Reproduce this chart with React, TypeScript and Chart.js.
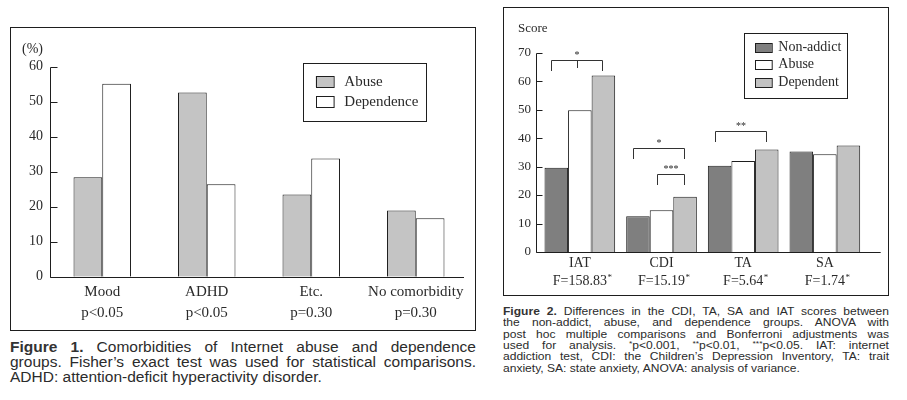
import React, { useEffect, useRef } from "react";
import { Chart, registerables } from "chart.js";

Chart.register(...registerables);

// ---------- Figure 1 data ----------
const fig1Categories = ["Mood", "ADHD", "Etc.", "No comorbidity"];
const fig1PValues = ["p<0.05", "p<0.05", "p=0.30", "p=0.30"];
const fig1Abuse = [28.4, 52.6, 23.5, 18.9];
const fig1Dependence = [55.1, 26.4, 33.8, 16.7];
const fig1YMax = 60;
const fig1YStep = 10;
const fig1YUnit = "(%)";
const fig1SeriesNames = ["Abuse", "Dependence"];

// ---------- Figure 2 data ----------
const fig2Categories = ["IAT", "CDI", "TA", "SA"];
const fig2FStats = ["F=158.83", "F=15.19", "F=5.64", "F=1.74"];
const fig2NonAddict = [29.6, 12.6, 30.3, 35.3];
const fig2Abuse = [49.8, 14.7, 32.0, 34.3];
const fig2Dependent = [62.0, 19.4, 36.0, 37.4];
const fig2YMax = 70;
const fig2YStep = 10;
const fig2YTitle = "Score";
const fig2SeriesNames = ["Non-addict", "Abuse", "Dependent"];
// significance brackets
const fig2BracketCat = [0, 1, 1, 2];
const fig2BracketFrom = [0, 0, 1, 0];
const fig2BracketTo = [2, 2, 2, 2];
const fig2BracketTop = [67.4, 36.4, 27.4, 42.6];
const fig2BracketEnd = [63.5, 32.5, 23.5, 38.7];
const fig2BracketMidEnd = [64.6, null, null, null];
const fig2BracketStars = ["*", "*", "***", "**"];

// ---------- captions ----------
const fig1CaptionLines = [
  ["Figure 1.", " Comorbidities of Internet abuse and dependence"],
  ["", "groups. Fisher\u2019s exact test was used for statistical comparisons."],
  ["", "ADHD: attention-deficit hyperactivity disorder."],
];
const fig2CaptionLines = [
  ["Figure 2.", " Differences in the CDI, TA, SA and IAT scores between"],
  ["", "the non-addict, abuse, and dependence groups. ANOVA with"],
  ["", "post hoc multiple comparisons and Bonferroni adjustments was"],
  ["", "used for analysis. |*|p<0.001, |**|p<0.01, |***|p<0.05. IAT: internet"],
  ["", "addiction test, CDI: the Children\u2019s Depression Inventory, TA: trait"],
  ["", "anxiety, SA: state anxiety, ANOVA: analysis of variance."],
];

const SERIF = "'Liberation Serif', 'DejaVu Serif', serif";
const SANS = "'Liberation Sans', Arial, sans-serif";
const TEXT = "#2a2a2a";
const LINE = "#1e1e1e";

// ---------- plugins ----------
const customAxes = {
  id: "customAxes",
  afterDraw(chart: any, _args: any, opts: any) {
    const { ctx, chartArea, scales } = chart;
    const y = scales.y;
    const ax = Math.round(chartArea.left + opts.axisOffset) + 0.5;
    const yb = Math.round(chartArea.bottom) + 0.5;
    const yt = Math.round(y.getPixelForValue(y.max)) + 0.5;
    ctx.save();
    ctx.strokeStyle = LINE;
    ctx.lineWidth = 1;
    ctx.beginPath();
    ctx.moveTo(ax, yt);
    ctx.lineTo(ax, yb);
    ctx.lineTo(chartArea.right + opts.xExtend, yb);
    y.ticks.forEach((t: any) => {
      const py = Math.round(y.getPixelForValue(t.value)) + 0.5;
      ctx.moveTo(ax, py);
      ctx.lineTo(ax + opts.tickLen, py);
    });
    ctx.stroke();
    ctx.restore();
  },
};

const boxLegend = {
  id: "boxLegend",
  afterDraw(chart: any, _args: any, o: any) {
    const { ctx } = chart;
    ctx.save();
    ctx.strokeStyle = LINE;
    ctx.lineWidth = 1;
    ctx.fillStyle = "#ffffff";
    ctx.fillRect(o.x, o.y, o.w, o.h);
    ctx.strokeRect(Math.round(o.x) + 0.5, Math.round(o.y) + 0.5, Math.round(o.w), Math.round(o.h));
    ctx.font = o.font;
    ctx.textBaseline = "middle";
    ctx.textAlign = "left";
    chart.data.datasets.forEach((ds: any, i: number) => {
      const cy = o.firstRowY + i * o.rowH;
      const sy = Math.round(cy - o.swH / 2);
      ctx.fillStyle = ds.backgroundColor;
      ctx.fillRect(o.swX, sy, o.swW, o.swH);
      ctx.strokeRect(Math.round(o.swX) + 0.5, sy + 0.5, o.swW, o.swH);
      ctx.fillStyle = TEXT;
      ctx.fillText(ds.label, o.textX, cy);
    });
    ctx.restore();
  },
};

const cornerTitle = {
  id: "cornerTitle",
  afterDraw(chart: any, _args: any, o: any) {
    const { ctx } = chart;
    ctx.save();
    ctx.font = o.font;
    ctx.fillStyle = TEXT;
    ctx.textBaseline = "middle";
    ctx.textAlign = "left";
    ctx.fillText(o.text, o.x, o.y);
    ctx.restore();
  },
};

const brackets = {
  id: "brackets",
  afterDatasetsDraw(chart: any, _args: any, o: any) {
    if (!o.enabled) return;
    const { ctx, scales } = chart;
    const y = scales.y;
    ctx.save();
    ctx.strokeStyle = "#333";
    ctx.lineWidth = 1;
    fig2BracketCat.forEach((cat, i) => {
      const b1 = chart.getDatasetMeta(fig2BracketFrom[i]).data[cat];
      const b2 = chart.getDatasetMeta(fig2BracketTo[i]).data[cat];
      const x1 = Math.round(b1.x - 5) + 0.5;
      const x2 = Math.round(b2.x - 1) + 0.5;
      const yt = Math.round(y.getPixelForValue(fig2BracketTop[i])) + 0.5;
      const ye = Math.round(y.getPixelForValue(fig2BracketEnd[i]));
      ctx.beginPath();
      ctx.moveTo(x1, ye);
      ctx.lineTo(x1, yt);
      ctx.lineTo(x2, yt);
      ctx.lineTo(x2, ye);
      const mid = (x1 + x2) / 2;
      const me = fig2BracketMidEnd[i];
      if (me !== null) {
        ctx.moveTo(Math.round(mid) + 0.5, yt);
        ctx.lineTo(Math.round(mid) + 0.5, Math.round(y.getPixelForValue(me)));
      }
      ctx.stroke();
      ctx.font = `10px ${SERIF}`;
      ctx.fillStyle = TEXT;
      ctx.textAlign = "center";
      ctx.textBaseline = "alphabetic";
      ctx.fillText(fig2BracketStars[i], mid, yt - 3);
    });
    ctx.restore();
  },
};

const superStars = {
  id: "superStars",
  afterDraw(chart: any, _args: any, o: any) {
    if (!o.enabled) return;
    const { ctx, scales } = chart;
    const x = scales.x;
    ctx.save();
    const lineY = x.top + o.padding + o.lineHeight * 1.5;
    fig2FStats.forEach((s, i) => {
      ctx.font = o.font;
      const w = ctx.measureText(s).width;
      const cx = x.getPixelForTick(i);
      ctx.font = `9px ${SERIF}`;
      ctx.fillStyle = TEXT;
      ctx.textAlign = "left";
      ctx.textBaseline = "alphabetic";
      ctx.fillText("*", cx + w / 2 + 0.5, lineY - 0.5);
    });
    ctx.restore();
  },
};

// ---------- chart component ----------
function BarChart(props: { config: any; width: number; height: number; left: number; top: number }) {
  const ref = useRef<HTMLCanvasElement | null>(null);
  useEffect(() => {
    if (!ref.current) return;
    const chart = new Chart(ref.current, props.config);
    return () => chart.destroy();
  }, []);
  return (
    <canvas
      ref={ref}
      width={props.width}
      height={props.height}
      style={{ position: "absolute", left: props.left, top: props.top, width: props.width, height: props.height }}
    />
  );
}

function makeConfig(p: any) {
  return {
    type: "bar",
    data: {
      labels: p.labels,
      datasets: p.datasets.map((d: any) => ({
        label: d.label,
        data: d.data,
        backgroundColor: d.color,
        borderColor: LINE,
        borderWidth: 1,
        categoryPercentage: p.catPct,
        barPercentage: 1,
      })),
    },
    options: {
      responsive: false,
      animation: false,
      events: [],
      layout: { padding: p.padding },
      scales: {
        x: {
          grid: { display: false, drawTicks: false },
          border: { display: false },
          ticks: {
            autoSkip: false,
            maxRotation: 0,
            minRotation: 0,
            padding: p.xPad,
            color: TEXT,
            font: { family: SERIF, size: p.xFont, lineHeight: p.xLH },
          },
          afterFit: (s: any) => {
            s.height = p.xHeight;
          },
        },
        y: {
          min: 0,
          max: p.yMax,
          grid: { display: false, drawTicks: false },
          border: { display: false },
          ticks: {
            stepSize: p.yStep,
            padding: p.yPad,
            color: TEXT,
            font: { family: SERIF, size: p.yFont },
          },
          afterFit: (s: any) => {
            s.width = p.yWidth;
          },
        },
      },
      plugins: {
        legend: { display: false },
        tooltip: { enabled: false },
        customAxes: p.axes,
        boxLegend: p.legend,
        cornerTitle: p.title,
        brackets: { enabled: !!p.brackets },
        superStars: p.stars || { enabled: false },
      },
    },
    plugins: [customAxes, boxLegend, cornerTitle, brackets, superStars],
  };
}

const fig1Config = makeConfig({
  labels: fig1Categories.map((c, i) => [c, fig1PValues[i]]),
  datasets: [
    { label: fig1SeriesNames[0], data: fig1Abuse, color: "#c4c4c4" },
    { label: fig1SeriesNames[1], data: fig1Dependence, color: "#ffffff" },
  ],
  catPct: 0.55,
  padding: { left: 0, right: 7, top: 38.7, bottom: 3.3 },
  xPad: 4.5,
  xFont: 15,
  xLH: 1.4,
  xHeight: 50,
  yMax: fig1YMax,
  yStep: fig1YStep,
  yPad: 7,
  yFont: 14,
  yWidth: 39,
  axes: { axisOffset: 0, xExtend: -4, tickLen: 7 },
  legend: {
    x: 292.3, y: 35.3, w: 123.4, h: 57.7,
    swX: 304.7, swW: 17.6, swH: 11, rowH: 20, firstRowY: 53.7,
    textX: 333.3, font: `15px ${SERIF}`,
  },
  title: { text: fig1YUnit, x: 11, y: 21, font: `14px ${SERIF}` },
});

const fig2Config = makeConfig({
  labels: fig2Categories.map((c, i) => [c, fig2FStats[i]]),
  datasets: [
    { label: fig2SeriesNames[0], data: fig2NonAddict, color: "#7f7f7f" },
    { label: fig2SeriesNames[1], data: fig2Abuse, color: "#ffffff" },
    { label: fig2SeriesNames[2], data: fig2Dependent, color: "#c2c2c2" },
  ],
  catPct: 0.865,
  padding: { left: 0, right: 22.3, top: 44.7, bottom: 3 },
  xPad: 2.5,
  xFont: 14,
  xLH: 1.26,
  xHeight: 40,
  yMax: fig2YMax,
  yStep: fig2YStep,
  yPad: 8,
  yFont: 13,
  yWidth: 35,
  axes: { axisOffset: -3, xExtend: 15, tickLen: 6 },
  legend: {
    x: 240, y: 25, w: 103.3, h: 65,
    swX: 251, swW: 16.7, swH: 9, rowH: 17.4, firstRowY: 39.3,
    textX: 274.3, font: `14px ${SERIF}`,
  },
  title: { text: fig2YTitle, x: 14, y: 21, font: `13px ${SERIF}` },
  brackets: true,
  stars: { enabled: true, padding: 2.5, lineHeight: 14 * 1.26, font: `14px ${SERIF}` },
});

function renderSegment(text: string, key: number) {
  // segments split by | ; odd indices are superscripts
  const parts = text.split("|");
  return parts.map((p, i) =>
    i % 2 === 1 ? (
      <sup key={`${key}-${i}`} style={{ fontSize: "0.7em", verticalAlign: "0.35em", lineHeight: 0 }}>
        {p}
      </sup>
    ) : (
      <span key={`${key}-${i}`}>{p}</span>
    )
  );
}

function Caption(props: {
  lines: string[][];
  left: number;
  top: number;
  width: number;
  fontSize: number;
  lineHeight: number;
  scaleX: number;
}) {
  const innerW = props.width / props.scaleX;
  return (
    <div
      style={{
        position: "absolute",
        left: props.left,
        top: props.top,
        width: innerW,
        transform: `scaleX(${props.scaleX})`,
        transformOrigin: "0 0",
        fontFamily: SANS,
        fontSize: props.fontSize,
        lineHeight: `${props.lineHeight}px`,
        color: "#2b2b2b",
      }}
    >
      {props.lines.map((ln, i) => {
        const last = i === props.lines.length - 1;
        return (
          <div
            key={i}
            style={{
              whiteSpace: "nowrap",
              height: props.lineHeight,
              textAlign: last ? "left" : "justify",
              textAlignLast: last ? "left" : "justify",
            } as any}
          >
            {ln[0] ? <b style={{ color: "#333" }}>{ln[0]}</b> : null}
            {renderSegment(ln[1], i)}
          </div>
        );
      })}
    </div>
  );
}

export default function App() {
  return (
    <div style={{ position: "absolute", left: 0, top: 0, width: 907, height: 400, background: "#ffffff", overflow: "hidden" }}>
      <div style={{ position: "absolute", left: 10, top: 27, width: 466, height: 304, border: `1px solid ${LINE}`, boxSizing: "border-box" }} />
      <div style={{ position: "absolute", left: 503, top: 7, width: 386, height: 289, border: `1px solid ${LINE}`, boxSizing: "border-box" }} />
      <BarChart config={fig1Config} left={11} top={28} width={464} height={302} />
      <BarChart config={fig2Config} left={504} top={8} width={384} height={287} />
      <Caption lines={fig1CaptionLines} left={10} top={338.5} width={466} fontSize={15.5} lineHeight={15.3} scaleX={1} />
      <Caption lines={fig2CaptionLines} left={503} top={305.2} width={386} fontSize={11.6} lineHeight={11.3} scaleX={1.04} />
    </div>
  );
}
